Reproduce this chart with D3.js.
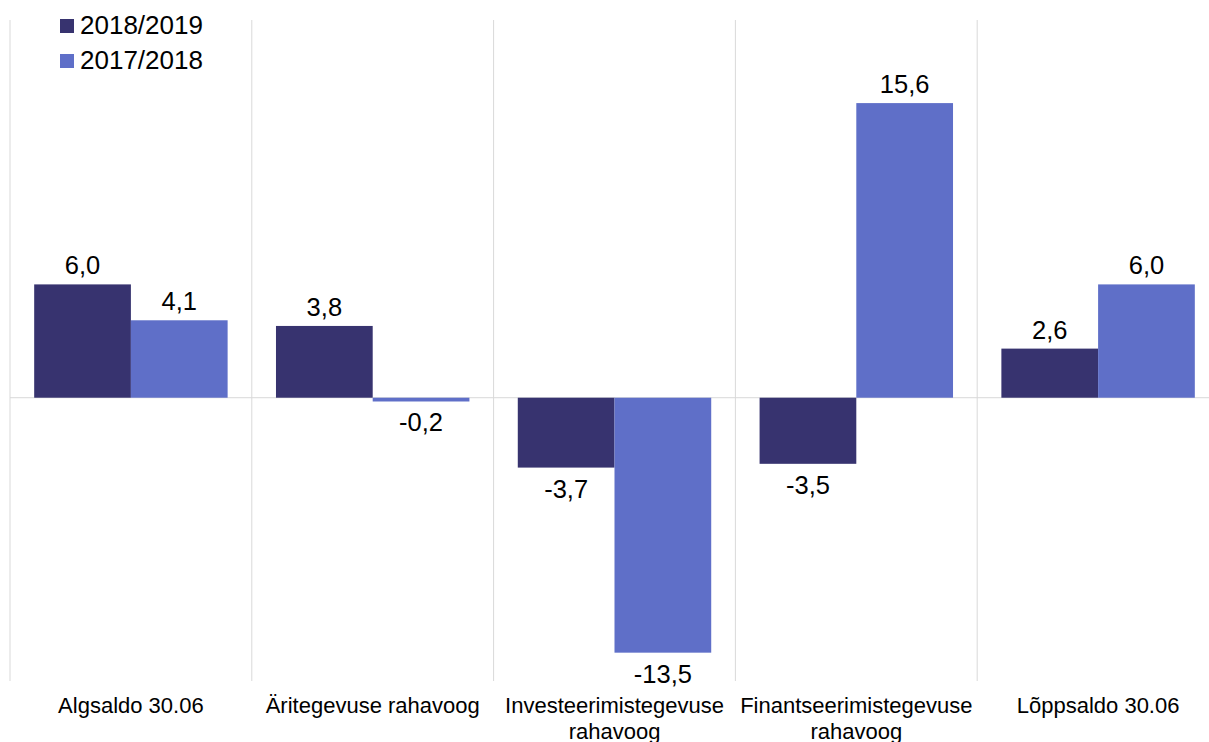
<!DOCTYPE html>
<html>
<head>
<meta charset="utf-8">
<script src="https://cdn.jsdelivr.net/npm/d3@7"></script>
<style>
  body { margin: 0; background: #fff; }
  svg { display: block; font-family: "Liberation Sans", Arial, sans-serif; }
</style>
</head>
<body>
<svg width="1209" height="742"></svg>
<script>
const categories = ["Algsaldo 30.06", "Äritegevuse rahavoog", "Investeerimistegevuse rahavoog", "Finantseerimistegevuse rahavoog", "Lõppsaldo 30.06"];
const series = ["2018/2019", "2017/2018"];
const values2019 = [6.0, 3.8, -3.7, -3.5, 2.6];
const values2018 = [4.1, -0.2, -13.5, 15.6, 6.0];
const colors = ["#37336f", "#5f6fc8"];

const svg = d3.select("svg");
const plotLeft = 10, plotRight = 1219, plotTop = 20, plotBottom = 681;

// kategooriad ja seeriad
const x0 = d3.scaleBand().domain(categories).range([plotLeft, plotRight]).padding(0);
const x1 = d3.scaleBand().domain(series).range([0, x0.bandwidth()]).paddingInner(0).paddingOuter(0.25);
const y = d3.scaleLinear().domain([-15, 20]).range([plotBottom, plotTop]);
const color = d3.scaleOrdinal().domain(series).range(colors);

const rows = categories.map((c, i) => ({ cat: c, vals: [values2019[i], values2018[i]] }));

// vertikaalsed jooned kategooriate vahel
const edges = categories.map(c => x0(c)).concat([plotRight]);
svg.append("g")
  .selectAll("line")
  .data(edges)
  .join("line")
  .attr("x1", d => d).attr("x2", d => d)
  .attr("y1", plotTop).attr("y2", plotBottom)
  .attr("stroke", "#d9d9d9").attr("stroke-width", 1);

// nulljoon
svg.append("line")
  .attr("x1", plotLeft).attr("x2", plotRight + 20)
  .attr("y1", y(0)).attr("y2", y(0))
  .attr("stroke", "#d9d9d9").attr("stroke-width", 1);

const groups = svg.append("g")
  .selectAll("g")
  .data(rows)
  .join("g")
  .attr("transform", d => `translate(${x0(d.cat)},0)`);

const cells = groups.selectAll("g")
  .data(d => d.vals.map((v, i) => ({ key: series[i], value: v })))
  .join("g");

cells.append("rect")
  .attr("x", d => x1(d.key))
  .attr("width", x1.bandwidth())
  .attr("y", d => y(Math.max(0, d.value)))
  .attr("height", d => Math.abs(y(d.value) - y(0)))
  .attr("fill", d => color(d.key));

cells.append("text")
  .text(d => d.value.toFixed(1).replace(".", ","))
  .attr("x", d => x1(d.key) + x1.bandwidth() / 2)
  .attr("y", d => d.value >= 0 ? y(d.value) - 10 : y(d.value) + 30)
  .attr("text-anchor", "middle")
  .style("font-size", "25.5px")
  .style("fill", "#000");

// x-telg
const axis = svg.append("g")
  .attr("transform", `translate(0,${plotBottom})`)
  .call(d3.axisBottom(x0).tickSize(0).tickPadding(16));
axis.select(".domain").remove();
axis.selectAll("text")
  .style("font-size", "22px")
  .style("font-family", "'Liberation Sans', Arial, sans-serif")
  .style("fill", "#000")
  .call(wrap, 236);

function wrap(texts, width) {
  texts.each(function () {
    const text = d3.select(this);
    const words = text.text().split(/\s+/);
    const yy = text.attr("y");
    const dy = parseFloat(text.attr("dy"));
    text.text(null);
    let line = [];
    let lineNo = 0;
    let tspan = text.append("tspan").attr("x", 0).attr("y", yy).attr("dy", dy + "em");
    words.forEach(w => {
      line.push(w);
      tspan.text(line.join(" "));
      if (tspan.node().getComputedTextLength() > width && line.length > 1) {
        line.pop();
        tspan.text(line.join(" "));
        line = [w];
        lineNo++;
        tspan = text.append("tspan").attr("x", 0).attr("y", yy)
          .attr("dy", (dy + lineNo * 1.2) + "em").text(w);
      }
    });
  });
}

// legend
const legend = svg.append("g")
  .selectAll("g")
  .data(series)
  .join("g")
  .attr("transform", (d, i) => `translate(60,${19 + i * 35})`);
legend.append("rect")
  .attr("width", 14).attr("height", 14)
  .attr("fill", d => color(d));
legend.append("text")
  .text(d => d)
  .attr("x", 20).attr("y", 15)
  .style("font-size", "26px")
  .style("fill", "#000");
</script>
</body>
</html>
